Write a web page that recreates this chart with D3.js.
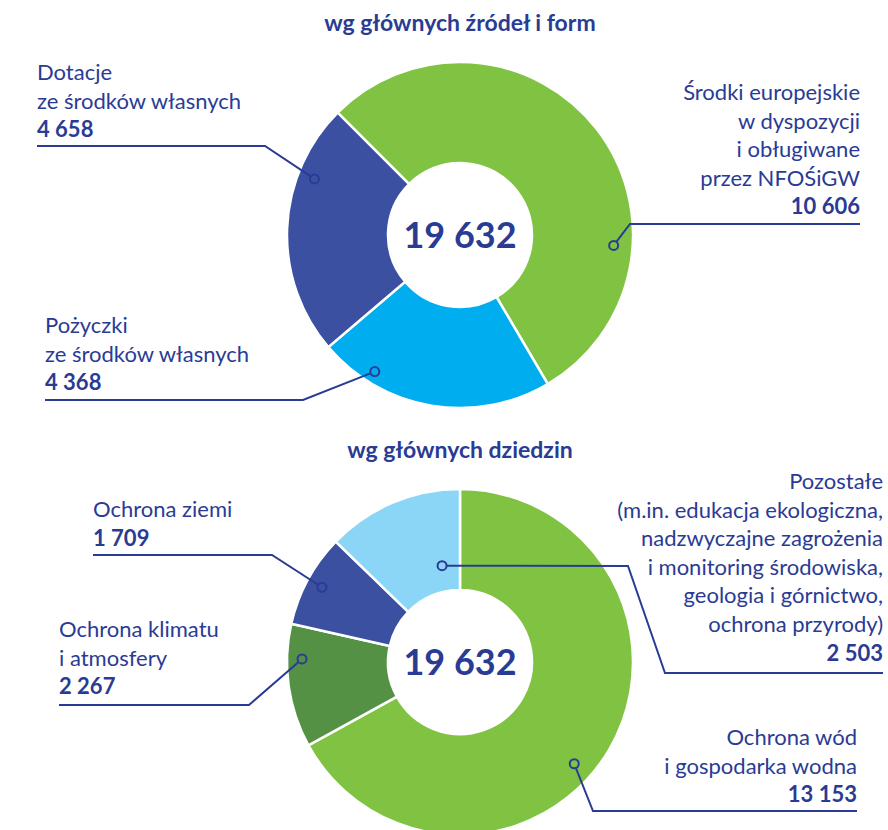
<html>
<head>
<meta charset="utf-8">
<script src="https://d3js.org/d3.v7.min.js"></script>
<style>
  body { margin: 0; background: #fff; }
  text { font-family: Lato, "Open Sans", sans-serif; fill: #2a3b94; }
</style>
</head>
<body>
<svg id="chart" width="888" height="830"></svg>
<script>
// data - top donut (by sources)
const topTitle = 'wg głównych źródeł i form'
const topNames = [
  ['Środki europejskie', 'w dyspozycji', 'i obługiwane', 'przez NFOŚiGW'],
  ['Pożyczki', 'ze środków własnych'],
  ['Dotacje', 'ze środków własnych']
]
const topValues = [10606, 4368, 4658]

// data - bottom donut (by domains)
const botTitle = 'wg głównych dziedzin'
const botNames = [
  ['Ochrona wód', 'i gospodarka wodna'],
  ['Ochrona klimatu', 'i atmosfery'],
  ['Ochrona ziemi'],
  ['Pozostałe', '(m.in. edukacja ekologiczna,', 'nadzwyczajne zagrożenia', 'i monitoring środowiska,', 'geologia i górnictwo,', 'ochrona przyrody)']
]
const botValues = [13153, 2267, 1709, 2503]

// styling / layout
const topColors = ['#80c242', '#00aeef', '#3c50a2']
const botColors = ['#80c242', '#559144', '#3c50a2', '#8bd6f6']
const ink = '#2a3b94'
const lineH = 28.6

// label layout: text position + leader line points (dot is appended from the arc)
const topLayout = [
  {x: 860, y: 100, anchor: 'end', pts: [[860, 224], [630, 224]], frac: 0.714, r: 154},
  {x: 45, y: 333, anchor: 'start', pts: [[45, 400], [303, 400]], frac: 0.78, r: 161},
  {x: 37, y: 80, anchor: 'start', pts: [[37, 146], [265, 146]], frac: 0.72, r: 156}
]
const botLayout = [
  {x: 857, y: 745, anchor: 'end', pts: [[857, 811], [593, 811]], frac: 0.546, r: 153},
  {x: 59, y: 637, anchor: 'start', pts: [[59, 705], [249, 705]], frac: 0.72, r: 158},
  {x: 93, y: 517, anchor: 'start', pts: [[93, 555], [272, 555]], frac: 0.5, r: 157},
  {x: 883, y: 489, anchor: 'end', pts: [[883, 673], [665, 673], [628, 566]], frac: 0.77, r: 98}
]

const fmt = d3.formatLocale({thousands: ' ', grouping: [3], decimal: ','}).format(',d')
const svg = d3.select('svg#chart')

function donut(cfg) {
  const g = svg.append('g').attr('transform', `translate(${cfg.cx},${cfg.cy})`)
  const pie = d3.pie().sort(null).value(d => d)
    .startAngle(cfg.start).endAngle(cfg.start + 2 * Math.PI)
  const arcs = pie(cfg.values)
  const arc = d3.arc().innerRadius(72).outerRadius(173)

  g.selectAll('path.slice')
    .data(arcs)
    .join('path')
    .attr('class', 'slice')
    .attr('d', arc)
    .attr('fill', (d, i) => cfg.colors[i])
    .attr('stroke', '#fff')
    .attr('stroke-width', 2.5)

  g.append('text')
    .attr('text-anchor', 'middle')
    .attr('y', 13)
    .style('font-size', '36px')
    .style('font-weight', 700)
    .text(fmt(d3.sum(cfg.values)))

  // title
  svg.append('text')
    .attr('x', cfg.cx).attr('y', cfg.titleY)
    .attr('text-anchor', 'middle')
    .style('font-size', '23px')
    .style('font-weight', 700)
    .text(cfg.title)

  arcs.forEach(function(a, i) {
    const L = cfg.layout[i]
    const ang = a.startAngle + L.frac * (a.endAngle - a.startAngle)
    const dot = [cfg.cx + L.r * Math.sin(ang), cfg.cy - L.r * Math.cos(ang)]

    svg.append('path')
      .attr('d', d3.line()(L.pts.concat([dot])))
      .attr('fill', 'none')
      .attr('stroke', ink)
      .attr('stroke-width', 2)

    svg.append('circle')
      .attr('cx', dot[0]).attr('cy', dot[1]).attr('r', 4.5)
      .attr('fill', cfg.colors[i])
      .attr('stroke', ink)
      .attr('stroke-width', 2)

    const t = svg.append('text')
      .attr('x', L.x).attr('y', L.y)
      .attr('text-anchor', L.anchor)
      .style('font-size', '22px')
    cfg.names[i].forEach((s, k) => {
      t.append('tspan').attr('x', L.x).attr('dy', k == 0 ? 0 : lineH).text(s)
    })
    t.append('tspan').attr('x', L.x).attr('dy', lineH)
      .style('font-weight', 700)
      .text(fmt(cfg.values[i]))
  })
}

donut({cx: 460, cy: 235, start: -Math.PI / 4, values: topValues, names: topNames,
  colors: topColors, layout: topLayout, title: topTitle, titleY: 31})
donut({cx: 460, cy: 662, start: 0, values: botValues, names: botNames,
  colors: botColors, layout: botLayout, title: botTitle, titleY: 458})
</script>
</body>
</html>
